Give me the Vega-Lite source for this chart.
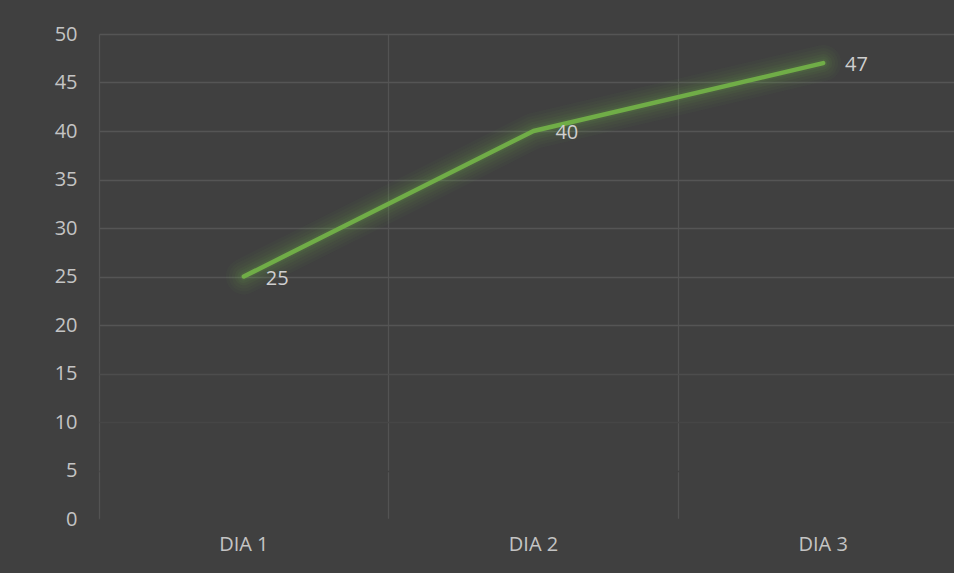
{
  "$schema": "https://vega.github.io/schema/vega-lite/v6.json",
  "width": 869,
  "height": 485,
  "autosize": {"type": "none"},
  "padding": {"left": 99, "top": 34, "right": 0, "bottom": 54},
  "background": "#404040",
  "config": {
    "view": {"stroke": null},
    "font": "Open Sans"
  },
  "data": {
    "values": [
      {"dia": "DIA 1", "valor": 25},
      {"dia": "DIA 2", "valor": 40},
      {"dia": "DIA 3", "valor": 47}
    ]
  },
  "encoding": {
    "x": {
      "field": "dia",
      "type": "nominal",
      "sort": null,
      "scale": {"type": "band", "paddingInner": 0, "paddingOuter": 0},
      "axis": {
        "title": null,
        "bandPosition": 0,
        "labelAngle": 0,
        "labelColor": "#c4c4c4",
        "labelFontSize": 20,
        "labelPadding": 15,
        "domain": false,
        "ticks": false,
        "grid": true,
        "gridColor": "#535353",
        "gridWidth": 1.3
      }
    },
    "y": {
      "field": "valor",
      "type": "quantitative",
      "scale": {"domain": [0, 50], "nice": false},
      "axis": {
        "title": null,
        "values": [0, 5, 10, 15, 20, 25, 30, 35, 40, 45, 50],
        "labelColor": "#c4c4c4",
        "labelFontSize": 20,
        "labelPadding": 22,
        "domain": false,
        "ticks": false,
        "grid": true,
        "gridWidth": 1.3,
        "gridColor": {
          "condition": [
            {"test": "datum.value <= 5", "value": "#404040"},
            {"test": "datum.value <= 10", "value": "#464646"},
            {"test": "datum.value <= 15", "value": "#4d4d4d"}
          ],
          "value": "#555555"
        }
      }
    }
  },
  "layer": [
    {"mark": {"type": "line", "color": "#7fbf4f", "strokeWidth": 36, "opacity": 0.035, "strokeCap": "round", "strokeJoin": "round"}},
    {"mark": {"type": "line", "color": "#7fbf4f", "strokeWidth": 30, "opacity": 0.04, "strokeCap": "round", "strokeJoin": "round"}},
    {"mark": {"type": "line", "color": "#7fbf4f", "strokeWidth": 24, "opacity": 0.045, "strokeCap": "round", "strokeJoin": "round"}},
    {"mark": {"type": "line", "color": "#7fbf4f", "strokeWidth": 18, "opacity": 0.05, "strokeCap": "round", "strokeJoin": "round"}},
    {"mark": {"type": "line", "color": "#7fbf4f", "strokeWidth": 13, "opacity": 0.06, "strokeCap": "round", "strokeJoin": "round"}},
    {"mark": {"type": "line", "color": "#7fbf4f", "strokeWidth": 8, "opacity": 0.08, "strokeCap": "round", "strokeJoin": "round"}},
    {"mark": {"type": "line", "color": "#70ad47", "strokeWidth": 4.5, "strokeCap": "round", "strokeJoin": "round"}},
    {
      "mark": {"type": "text", "align": "left", "baseline": "middle", "dy": 2, "fontSize": 20, "color": "#cfcfcf"},
      "encoding": {
        "text": {"field": "valor", "type": "quantitative"},
        "xOffset": {"condition": {"test": "datum.dia === 'DIA 2'", "value": 139.75}, "value": 166.75}
      }
    }
  ]
}
